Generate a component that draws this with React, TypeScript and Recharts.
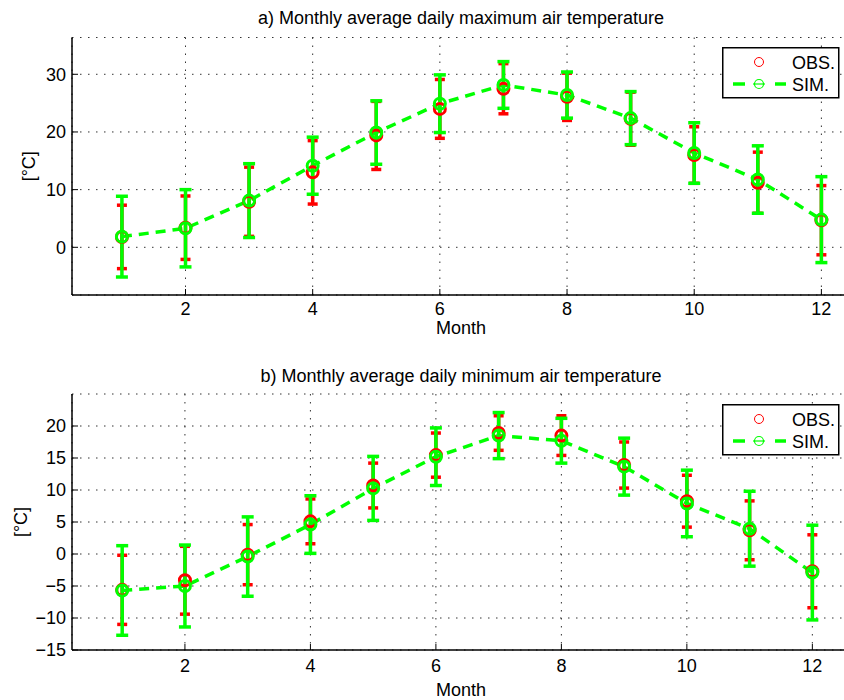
import { ComposedChart, Line, XAxis, YAxis, CartesianGrid, ErrorBar } from 'recharts'

const FONT = '"Liberation Sans", Arial, Helvetica, sans-serif'
const RED = '#ff0000'
const GREEN = '#00ff00'

const months = [1, 2, 3, 4, 5, 6, 7, 8, 9, 10, 11, 12]
const monthTicks = [2, 4, 6, 8, 10, 12]

// a) daily maximum, mean and std
const maxObs = [1.8, 3.4, 7.9, 13.0, 19.4, 24.0, 27.5, 26.1, 22.3, 16.0, 11.2, 4.7]
const maxObsSd = [5.5, 5.5, 6.0, 5.5, 5.9, 5.1, 4.35, 4.1, 4.6, 4.9, 5.3, 6.0]
const maxSim = [1.85, 3.3, 8.1, 14.15, 19.9, 24.9, 28.15, 26.4, 22.4, 16.35, 11.75, 4.8]
const maxSimSd = [7.0, 6.7, 6.4, 4.95, 5.5, 5.0, 4.05, 4.0, 4.6, 5.25, 5.85, 7.45]
const maxTicks = [0, 10, 20, 30]

// b) daily minimum, mean and std
const minObs = [-5.6, -4.1, -0.1, 5.1, 10.7, 15.45, 18.9, 18.5, 13.9, 8.25, 3.7, -2.7]
const minObsSd = [5.4, 5.3, 4.7, 3.5, 3.5, 3.45, 2.7, 3.1, 3.6, 4.05, 4.6, 5.7]
const minSim = [-5.7, -5.0, -0.4, 4.6, 10.25, 15.2, 18.5, 17.7, 13.65, 7.9, 3.95, -2.9]
const minSimSd = [7.0, 6.4, 6.2, 4.5, 5.0, 4.5, 3.6, 3.5, 4.45, 5.2, 5.85, 7.4]
const minTicks = [-15, -10, -5, 0, 5, 10, 15, 20]

const buildRows = (obs: number[], obsSd: number[], sim: number[], simSd: number[]) =>
  months.map((m, i) => ({ month: m, obs: obs[i], obsErr: obsSd[i], sim: sim[i], simErr: simSd[i] }))

const CHART_W = 870
const AXIS_W = 72
const RIGHT = 20
const XAXIS_H = 50

const fmt = (v: number) => String(v).replace('-', '\u2212')

const ring = (color: string) => (props: any) => {
  const { cx, cy, index } = props
  if (cx == null || cy == null) return <g key={index} />
  return <circle key={index} cx={cx} cy={cy} r={5.5} fill="none" stroke={color} strokeWidth={3} />
}

function makeXTick(margin: number) {
  return (props: any) => {
    const { x, y, payload } = props
    return (
      <g>
        <line x1={x} x2={x} y1={y - margin} y2={y - margin - 6} stroke="#000" />
        <text x={x} y={y} dy="0.72em" textAnchor="middle" fontSize={18} fontFamily={FONT} fill="#000">
          {payload.value}
        </text>
      </g>
    )
  }
}

const TopTick = (props: any) => <line x1={props.x} x2={props.x} y1={props.y} y2={props.y + 6} stroke="#000" />

const YTick = (props: any) => {
  const { x, y, payload } = props
  return (
    <g>
      <line x1={x + 6} x2={x + 12} y1={y} y2={y} stroke="#000" />
      <text x={x} y={y} dy="0.36em" textAnchor="end" fontSize={18} fontFamily={FONT} fill="#000">
        {fmt(payload.value)}
      </text>
    </g>
  )
}

function LegendBox({ top }: { top: number }) {
  return (
    <svg style={{ position: 'absolute', left: 722, top }} width={118} height={52}>
      <rect x={0.75} y={0.75} width={116} height={50} fill="#fff" stroke="#000" strokeWidth={1.5} />
      <circle cx={37} cy={15} r={4.5} fill="none" stroke={RED} />
      <text x={70} y={21.5} fontSize={18} fontFamily={FONT} fill="#000">OBS.</text>
      <line x1={11} x2={23} y1={37} y2={37} stroke={GREEN} strokeWidth={3.5} />
      <line x1={31} x2={43} y1={37} y2={37} stroke={GREEN} strokeWidth={1.2} />
      <line x1={53} x2={64} y1={37} y2={37} stroke={GREEN} strokeWidth={3.5} />
      <circle cx={37} cy={37} r={4.5} fill="none" stroke={GREEN} strokeWidth={1.2} />
      <text x={70} y={43.5} fontSize={18} fontFamily={FONT} fill="#000">SIM.</text>
    </svg>
  )
}

type PanelProps = {
  title: string
  rows: ReturnType<typeof buildRows>
  xDomain: [number, number]
  yDomain: [number, number]
  yTicks: number[]
  top: number
  height: number
  plotTop: number
  titleTop: number
  legendTop: number
  yLabelX: number
  tickMargin: number
  monthBase: number
}

function Panel(p: PanelProps) {
  const axis = { stroke: '#000', strokeWidth: 1.5 }
  return (
    <div style={{ position: 'absolute', left: 0, top: p.top, width: CHART_W, height: p.height }}>
      <div
        style={{
          position: 'absolute', left: AXIS_W, width: CHART_W - AXIS_W - RIGHT, top: p.titleTop,
          textAlign: 'center', fontFamily: FONT, fontSize: 18, lineHeight: '20px', color: '#000',
        }}
      >
        {p.title}
      </div>
      <ComposedChart width={CHART_W} height={p.height} data={p.rows} margin={{ top: p.plotTop, right: RIGHT, bottom: 0, left: 0 }}>
        <CartesianGrid stroke="#333" strokeDasharray="1.5 6.5" />
        <XAxis
          dataKey="month" type="number" domain={p.xDomain} ticks={monthTicks} allowDataOverflow
          height={XAXIS_H} tickSize={0} tickMargin={p.tickMargin} tick={makeXTick(p.tickMargin)} axisLine={axis}
          label={({ viewBox }: any) => (
            <text x={viewBox.x + viewBox.width / 2} y={viewBox.y + p.monthBase} textAnchor="middle" fontSize={18} fontFamily={FONT} fill="#000">
              Month
            </text>
          )}
        />
        <XAxis
          xAxisId="top" orientation="top" dataKey="month" type="number" domain={p.xDomain} ticks={monthTicks}
          allowDataOverflow height={0} tickSize={0} tickMargin={0} tick={TopTick} axisLine={axis}
        />
        <YAxis
          type="number" domain={p.yDomain} ticks={p.yTicks} allowDataOverflow width={AXIS_W}
          tickSize={0} tickMargin={6} tick={YTick} axisLine={axis}
          label={({ viewBox }: any) => {
            const cy = viewBox.y + viewBox.height / 2
            return (
              <text x={p.yLabelX} y={cy} dy="0.36em" textAnchor="middle" transform={`rotate(-90, ${p.yLabelX}, ${cy})`} fontSize={18} fontFamily={FONT} fill="#000">
                [°C]
              </text>
            )
          }}
        />
        <Line dataKey="obs" stroke="none" dot={ring(RED)} activeDot={false} isAnimationActive={false}>
          <ErrorBar dataKey="obsErr" width={5} stroke={RED} strokeWidth={3.5} isAnimationActive={false} />
        </Line>
        <Line
          dataKey="sim" stroke={GREEN} strokeWidth={3.5} strokeDasharray="10 7"
          dot={ring(GREEN)} activeDot={false} isAnimationActive={false}
        >
          <ErrorBar dataKey="simErr" width={6} stroke={GREEN} strokeWidth={3.5} isAnimationActive={false} />
        </Line>
      </ComposedChart>
      <LegendBox top={p.legendTop} />
    </div>
  )
}

export default function App() {
  return (
    <div style={{ position: 'absolute', left: 0, top: 0, width: 844, height: 700, overflow: 'hidden', background: '#fff' }}>
      <Panel
        title="a) Monthly average daily maximum air temperature"
        rows={buildRows(maxObs, maxObsSd, maxSim, maxSimSd)}
        xDomain={[0.215, 12.45]} yDomain={[-8.27, 36.38]} yTicks={maxTicks}
        top={0} height={345} plotTop={37.5} titleTop={8} legendTop={47} yLabelX={29}
        tickMargin={7} monthBase={39}
      />
      <Panel
        title="b) Monthly average daily minimum air temperature"
        rows={buildRows(minObs, minObsSd, minSim, minSimSd)}
        xDomain={[0.2, 12.6]} yDomain={[-15, 25]} yTicks={minTicks}
        top={350} height={350} plotTop={44} titleTop={16} legendTop={54} yLabelX={20.5}
        tickMargin={9} monthBase={46}
      />
    </div>
  )
}
